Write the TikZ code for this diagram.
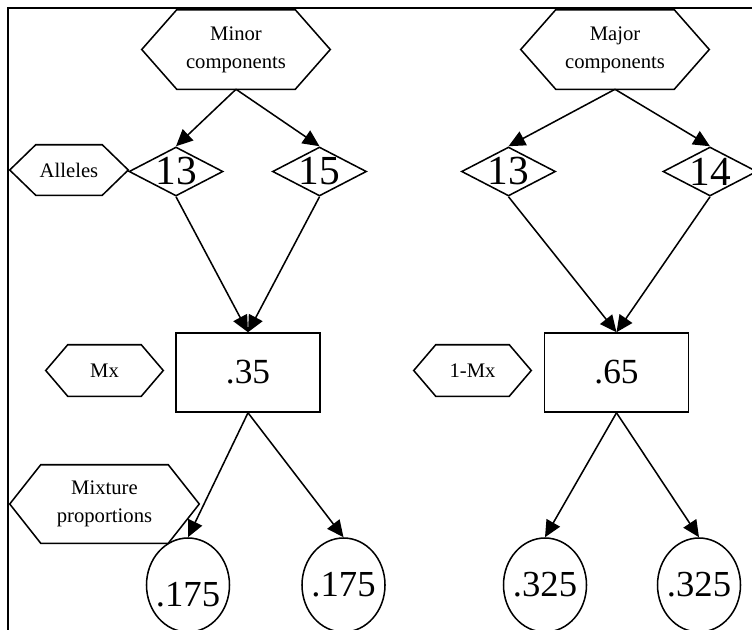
\documentclass[tikz,border=0pt]{standalone}
\usepackage{fontspec}
\setmainfont{Liberation Serif}
\usetikzlibrary{shapes.geometric,arrows.meta}
\begin{document}
\begin{tikzpicture}[x=0.75pt,y=-0.75pt,
  lw/.style={line width=1.15pt},
  hexlabel/.style={rectangle,inner sep=0pt,align=center,font=\fontsize{15.5}{21}\selectfont},
  allele/.style={diamond,draw,lw,aspect=1.92,inner sep=0pt,minimum width=70.5pt,minimum height=36.75pt,font=\fontsize{31}{31}\selectfont},
  mixbox/.style={rectangle,draw,lw,minimum width=108pt,minimum height=59.25pt,inner sep=0pt,font=\fontsize{26.5}{26.5}\selectfont},
  propcircle/.style={ellipse,draw,lw,minimum width=62.25pt,minimum height=70.5pt,inner sep=0pt,font=\fontsize{27.5}{27.5}\selectfont},
  arr/.style={lw,-{Triangle[length=12.5pt,width=11.5pt]}},
  framed/.style={line width=1.8pt}
]
\useasboundingbox (0,0) rectangle (752,629);
\clip (0,0) rectangle (752,629);
\draw[framed] (8,640) -- (8,8) -- (770,8);

% hexagon labels
\node[hexlabel,minimum width=141pt,minimum height=59.25pt] (minor) at (236,49.5) {Minor\\components};
\node[hexlabel,minimum width=141pt,minimum height=59.25pt] (major) at (615,49.5) {Major\\components};
\node[hexlabel,minimum width=88.5pt,minimum height=37.5pt] (alleles) at (69,170) {Alleles};
\node[hexlabel,minimum width=87.75pt,minimum height=38.25pt] (mx) at (104.5,370.5) {Mx};
\node[hexlabel,minimum width=87.75pt,minimum height=38.25pt] (onemx) at (472.5,370.5) {1-Mx};
\node[hexlabel,minimum width=141.75pt,minimum height=58.5pt] (mixture) at (104.5,504) {Mixture\\proportions};
\foreach \n/\d in {minor/26.25pt,major/26.25pt,alleles/19.5pt,mx/16.5pt,onemx/16.5pt,mixture/23.25pt}{
  \draw[lw] (\n.west) -- ([xshift=\d]\n.north west) -- ([xshift=-\d]\n.north east) -- (\n.east)
    -- ([xshift=-\d]\n.south east) -- ([xshift=\d]\n.south west) -- cycle;
}

% alleles
\node[allele] (a13) at (176,171.5) {\makebox[0pt]{13}};
\node[allele] (a15) at (319.5,171.5) {\makebox[0pt]{15}};
\node[allele] (b13) at (508.5,171.5) {\makebox[0pt]{13}};
\node[allele] (b14) at (710,171.5) {\makebox[0pt]{14}};

% mixture boxes
\node[mixbox] (m35) at (248,372.5) {.35};
\node[mixbox] (m65) at (616.5,372.5) {.65};

% proportions
\node[propcircle] (p1) at (188,585) {\raisebox{-6.75pt}[18pt][0pt]{\makebox[0pt]{.175}}};
\node[propcircle] (p2) at (343.5,585) {\makebox[0pt]{.175}};
\node[propcircle] (p3) at (545,585) {\makebox[0pt]{.325}};
\node[propcircle] (p4) at (699,585) {\makebox[0pt]{.325}};

% connectors
\draw[arr] (minor.south) -- (a13.north);
\draw[arr] (minor.south) -- (a15.north);
\draw[arr] (major.south) -- (b13.north);
\draw[arr] (major.south) -- (b14.north);
\draw[arr] (a13.south) -- (m35.north);
\draw[arr] (a15.south) -- (m35.north);
\draw[arr] (b13.south) -- (m65.north);
\draw[arr] (b14.south) -- (m65.north);
\draw[arr] (m35.south) -- (p1.north);
\draw[arr] (m35.south) -- (p2.north);
\draw[arr] (m65.south) -- (p3.north);
\draw[arr] (m65.south) -- (p4.north);
\end{tikzpicture}
\end{document}
